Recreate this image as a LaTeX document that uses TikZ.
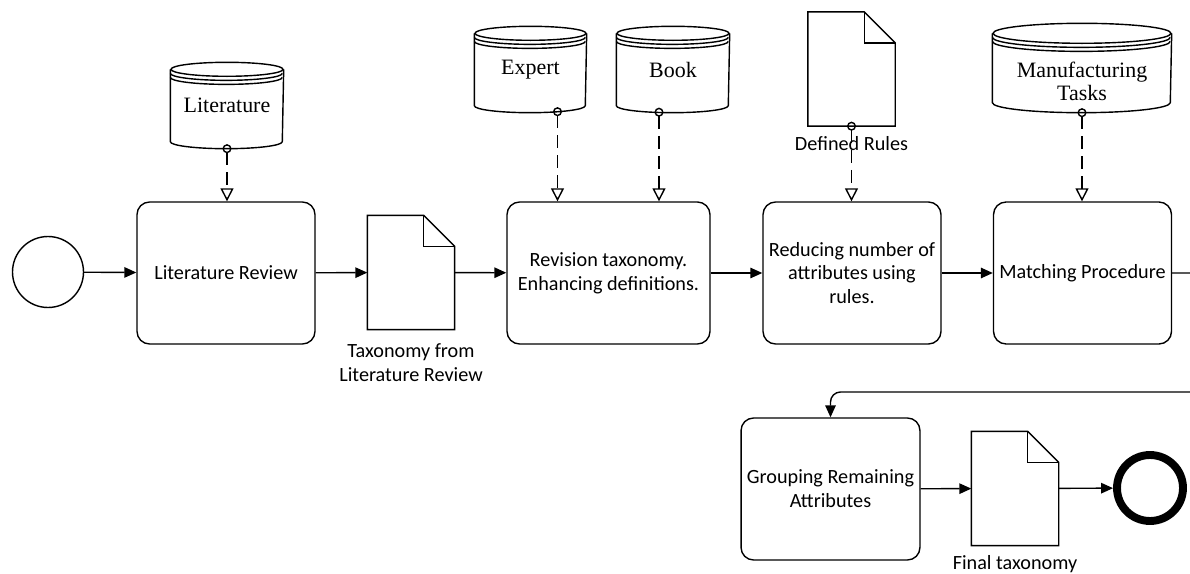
\documentclass[tikz,border=0pt]{standalone}
\usepackage{fontspec}
\setmainfont{Carlito}
\newfontfamily\storefamily{Liberation Serif}
\usetikzlibrary{arrows.meta}

\newcommand\storeshape[3]{%
	\draw ([yshift=-#3]#1.north west) -- ([yshift=#3]#1.south west)
		arc[start angle=180, end angle=360, x radius=#2, y radius=#3]
		-- ([yshift=-#3]#1.north east);
	\draw ([yshift=-#3]#1.north) ellipse [x radius=#2, y radius=#3];
	\draw ([yshift=-#3-2.3pt]#1.north west) arc[start angle=180, end angle=360, x radius=#2, y radius=#3];
	\draw ([yshift=-#3-4.6pt]#1.north west) arc[start angle=180, end angle=360, x radius=#2, y radius=#3];
}
\newcommand\docshape[1]{%
	\draw (#1.south west) -- (#1.north west) -- ([xshift=-0.62cm]#1.north east)
		-- ([yshift=-0.62cm]#1.north east) -- (#1.south east) -- cycle;
	\draw ([xshift=-0.62cm]#1.north east) |- ([yshift=-0.62cm]#1.north east);
}

\tikzset{
	tasktext/.style={font=\fontsize{11.5}{13.6}\selectfont, align=center},
	storetext/.style={font=\storefamily\fontsize{12.5}{13}\selectfont, align=center},
	task/.style={tasktext, draw, rounded corners=0.25cm, minimum width=3.56cm, minimum height=2.84cm},
	store/.style={storetext, inner sep=0, minimum width=2.24cm, minimum height=1.7cm},
	docu/.style={inner sep=0, minimum width=1.72cm, minimum height=2.26cm},
	startevent/.style={circle, draw, inner sep=0, minimum size=1.42cm},
	endevent/.style={circle, draw, line width=4.5pt, inner sep=0, minimum size=1.32cm},
	flow/.style={-{Triangle[length=0.24cm, width=0.21cm]}},
	assoc/.style={dash pattern=on 0.26cm off 0.14cm,
		{Circle[open, length=0.18cm]}-{Triangle[open, length=0.26cm, width=0.26cm]}}
}

\begin{document}
\begin{tikzpicture}[x=0.02cm, y=-0.02cm, line width=0.8pt]
		\clip (0, 0) rectangle (1190, 574);
		\node (start) [startevent] at (48, 272) {};
		\node (litrev) [task] at (226, 273) {Literature Review};
		\node (tax) [docu, label={[tasktext, label distance=4pt]below:Taxonomy from\\Literature Review}] at (411, 272.5) {};
		\node (rev) [task, minimum width=4.06cm] at (608.5, 273) {Revision taxonomy.\\Enhancing definitions.};
		\node (red) [task] at (852, 273) {Reducing number of\\attributes using\\rules.};
		\node (match) [task] at (1082.5, 273) {Matching Procedure};
		\node (grp) [task] at (830.5, 489) {Grouping Remaining\\Attributes};
		\node (fin) [docu, label={[tasktext, label distance=2pt]below:Final taxonomy}] at (1015, 488.5) {};
		\node (end) [endevent] at (1150, 488) {};

		\node (lit) [store] at (227, 105.5) {Literature};
		\node (exp) [store, minimum width=2.22cm] at (530.5, 69.5) {Expert};
		\node (book) [store] at (673, 69.5) {Book};
		\node (manu) [store, minimum width=3.56cm, minimum height=1.76cm] at (1082, 68) {};
		\node (manutext) [storetext] at (1082, 81.5) {Manufacturing\\Tasks};
		\node (rules) [docu, label={[tasktext, label distance=2pt]below:Defined Rules}] at (851.5, 69) {};

		\storeshape{lit}{1.12cm}{0.14cm}
		\storeshape{exp}{1.11cm}{0.14cm}
		\storeshape{book}{1.12cm}{0.14cm}
		\storeshape{manu}{1.78cm}{0.2cm}
		\docshape{tax}
		\docshape{rules}
		\docshape{fin}

		\draw [flow] (start) -- (litrev);
		\draw [flow] (litrev) -- (tax);
		\draw [flow] (tax) -- (rev);
		\draw [flow] (rev) -- (red);
		\draw [flow] (red) -- (match);
		\coordinate (loop) at (1215, 392);
		\draw [flow, rounded corners=0.2cm] (match.east) -| (loop) -| (grp.north);
		\draw [flow] (grp) -- (fin);
		\draw [flow] (fin) -- (end);

		\coordinate (litout) at ([yshift=0.09cm]lit.south);
		\coordinate (expout) at ([xshift=0.54cm, yshift=0.11cm]exp.south);
		\coordinate (bookout) at ([xshift=-0.28cm, yshift=0.1cm]book.south);
		\coordinate (manuout) at ([yshift=0.09cm]manu.south);
		\coordinate (rulesout) at ([yshift=0.09cm]rules.south);
		\draw [assoc] (litout) -- (litout |- litrev.north);
		\draw [assoc] (expout) -- (expout |- rev.north);
		\draw [assoc] (bookout) -- (bookout |- rev.north);
		\draw [assoc] (rulesout) -- (rulesout |- red.north);
		\draw [assoc] (manuout) -- (manuout |- match.north);
	\end{tikzpicture}
\end{document}
